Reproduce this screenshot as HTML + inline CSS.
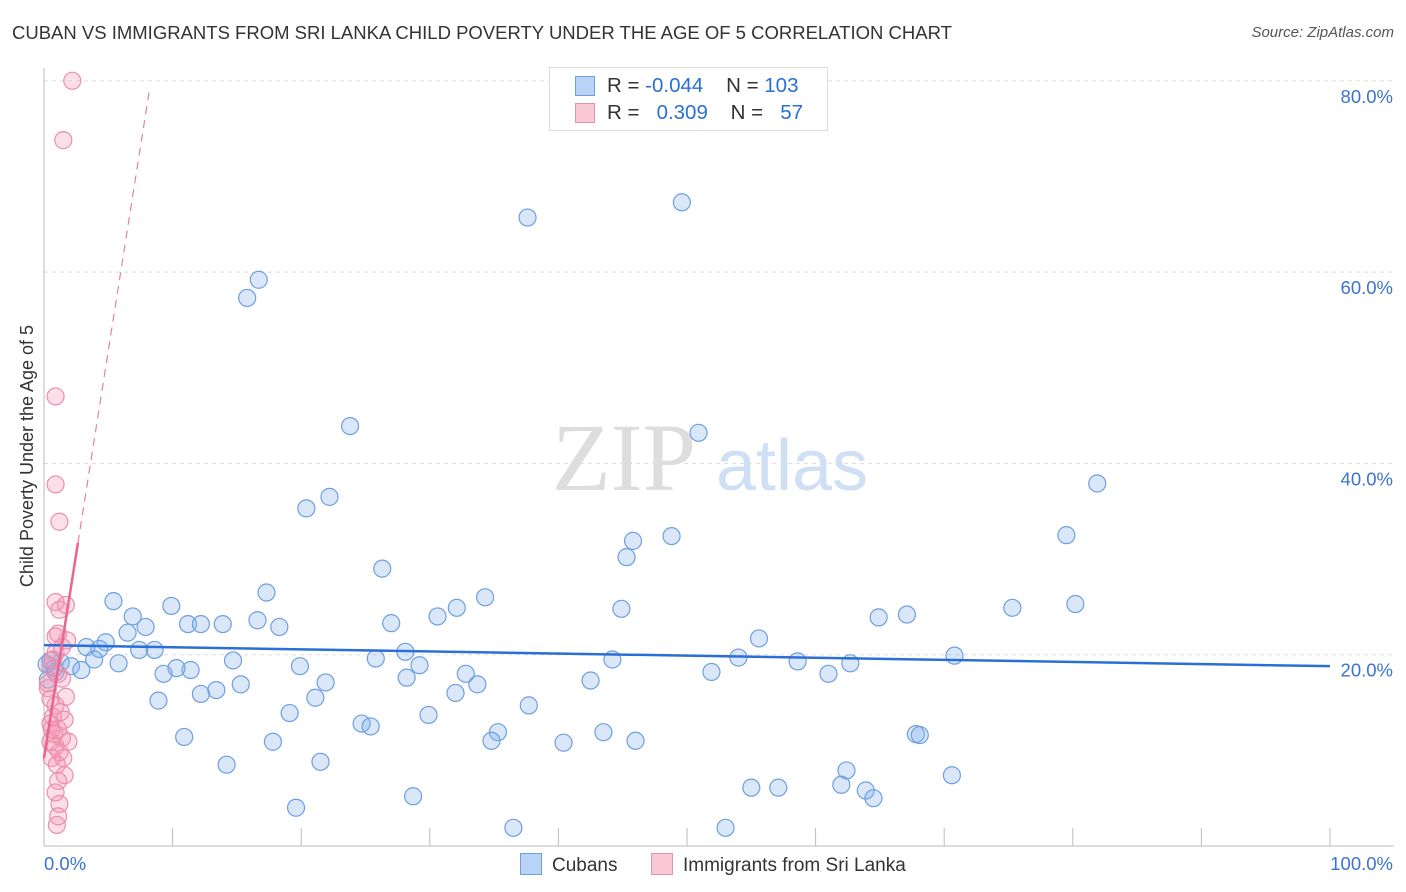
<!DOCTYPE html>
<html><head><meta charset="utf-8"><style>
body{margin:0;background:#fff;font-family:"Liberation Sans",sans-serif}
#wrap{position:relative;width:1406px;height:892px;overflow:hidden}
.t{position:absolute;white-space:nowrap}
</style></head><body>
<div id="wrap">
<div class="t" style="left:12px;top:22px;font-size:18.5px;color:#333">CUBAN VS IMMIGRANTS FROM SRI LANKA CHILD POVERTY UNDER THE AGE OF 5 CORRELATION CHART</div>
<div class="t" style="right:12px;top:24px;font-size:15px;color:#555;font-style:italic">Source: ZipAtlas.com</div>
<svg id="plot" width="1406" height="892" style="position:absolute;left:0;top:0"></svg>
</div>
<script>
const blueX=[37.6,49.6,16.7,15.8,23.8,50.9,81.9,22.2,20.4,79.5,48.8,45.8,45.3,26.3,17.3,34.3,5.4,32.1,44.9,9.9,80.2,75.3,67.1,64.9,6.9,30.6,27,16.6,11.2,12.2,13.9,18.3,7.9,6.5,55.6,4.8,3.3,4.3,8.6,7.4,28.1,54.0,70.8,14.7,25.8,3.9,44.2,58.6,62.7,5.8,1.3,0.2,2.1,2.9,19.9,10.3,29.2,11.4,9.3,32.8,51.9,61,28.2,33.7,42.5,21.9,15.3,13.4,12.2,32,21.1,8.9,37.7,19.1,29.9,24.7,25.4,43.5,35.3,67.8,68.1,10.9,46,17.8,34.8,40.4,21.5,14.2,62.4,70.6,55,57.1,62,63.9,64.5,28.7,19.6,36.5,53,0.9,0.5,0.3,0.8];
const blueY=[65.7,67.3,59.2,57.3,43.9,43.2,37.9,36.5,35.3,32.5,32.4,31.9,30.2,29,26.5,26,25.6,24.9,24.8,25.1,25.3,24.9,24.2,23.9,24,24,23.3,23.6,23.2,23.2,23.2,22.9,22.9,22.3,21.7,21.3,20.8,20.6,20.5,20.5,20.3,19.7,19.9,19.4,19.6,19.5,19.5,19.3,19.1,19.1,19.2,19,18.8,18.4,18.8,18.6,18.9,18.4,18,18,18.2,18,17.6,16.9,17.3,17.1,16.9,16.3,15.9,16,15.5,15.2,14.7,13.9,13.7,12.8,12.5,11.9,11.9,11.7,11.6,11.4,11,10.9,11,10.8,8.8,8.5,7.9,7.4,6.1,6.1,6.4,5.8,5,5.2,4,1.9,1.9,18.2,19.4,17.4,18.6];
const pinkX=[2.2,1.5,0.9,0.9,1.2,0.9,1.7,1.2,1.8,1.1,0.9,0.7,0.5,1.1,1.4,0.3,1.7,0.9,1.3,0.7,1.6,0.5,1.1,1.4,0.5,1.9,0.9,1.2,0.6,1.5,1,1.6,1.1,0.9,1.2,1.1,1,0.3,0.5,0.6,0.8,0.9,1.4];
const pinkY=[80,73.8,47,37.8,33.9,25.5,25.2,24.7,21.5,22.2,20.2,19.5,18.8,18,17.5,17,15.6,14.7,14,13.5,13.2,12.8,12.2,11.3,10.9,10.9,10.4,9.8,9.2,9.2,8.5,7.4,6.8,5.6,4.4,3.1,2.2,16.5,15.4,12.2,11.7,21.9,20.8];
const blueTrend=[21.0,18.8];          // y% at x=0 and x=100
const pinkTrend=[9.2,79.4,8.24,2.64]; // y% at x=0, y% at xEnd, xEnd, solid end
const yTicks=[20,40,60,80], yTickLabels=["20.0%","40.0%","60.0%","80.0%"];
const X=v=>44+v*12.86, Y=v=>846-v*9.565;
const svg=document.getElementById('plot'),NS="http://www.w3.org/2000/svg";
function mk(t,a,p){const e=document.createElementNS(NS,t);for(const k in a)e.setAttribute(k,a[k]);(p||svg).appendChild(e);return e;}
let w=mk('text',{x:552,y:490,'font-size':96,'font-family':'Liberation Serif,serif',fill:'#ddd'});w.textContent='ZIP';


let w2=mk('text',{x:716,y:490,'font-size':72,'font-family':'Liberation Sans,sans-serif',fill:'#cfe0f5'});w2.textContent='atlas';


yTicks.forEach((t,i)=>{
 const g=mk('line',{x1:44,x2:1394,y1:Y(t),y2:Y(t),stroke:'#ddd','stroke-dasharray':'4,4'});
 
 
 const l=mk('text',{x:1393,y:Y(t)+22,'text-anchor':'end','font-size':18.5,fill:'#3b73d0'});l.textContent=yTickLabels[i];
 
 
});
mk('line',{x1:44,x2:44,y1:68,y2:846,stroke:'#bbb'});
mk('line',{x1:44,x2:1394,y1:846,y2:846,stroke:'#bbb'});
for(let i=1;i<=10;i++){const tk=mk('line',{x1:X(i*10),x2:X(i*10),y1:828,y2:846,stroke:'#bbb'});
 
 }
let xl=mk('text',{x:44,y:870,'font-size':18.5,fill:'#3b73d0'});xl.textContent='0.0%';


let xr=mk('text',{x:1393,y:870,'text-anchor':'end','font-size':18.5,fill:'#3b73d0'});xr.textContent='100.0%';


let yt=mk('text',{x:0,y:0,'font-size':18,fill:'#333','text-anchor':'middle',transform:'translate(33,456) rotate(-90)'});yt.textContent='Child Poverty Under the Age of 5';


blueX.forEach((x,i)=>{const c=mk('circle',{cx:X(x),cy:Y(blueY[i]),r:8.5,fill:'rgba(130,175,235,0.3)',stroke:'#6e9fe0','stroke-width':1.2});
 
 });
pinkX.forEach((x,i)=>{const c=mk('circle',{cx:X(x),cy:Y(pinkY[i]),r:8.5,fill:'rgba(245,150,180,0.3)',stroke:'#eb8fac','stroke-width':1.2});
 
 });
let bt=mk('line',{x1:X(0),y1:Y(blueTrend[0]),x2:X(100),y2:Y(blueTrend[1]),stroke:'#2a6fd6','stroke-width':2.5});


const py=x=>pinkTrend[0]+(pinkTrend[1]-pinkTrend[0])*x/pinkTrend[2];
let pd=mk('line',{x1:X(pinkTrend[3]),y1:Y(py(pinkTrend[3])),x2:X(pinkTrend[2]),y2:Y(pinkTrend[1]),stroke:'#e8809f','stroke-width':1.2,'stroke-dasharray':'8,6'});


let ps=mk('line',{x1:X(0),y1:Y(pinkTrend[0]),x2:X(pinkTrend[3]),y2:Y(py(pinkTrend[3])),stroke:'#e8668f','stroke-width':2.5});


</script>
<div class="t" style="left:549px;top:67px;width:277px;height:62px;border:1px solid #ddd;background:#fff;font-size:20.5px;color:#333">
 <div style="position:absolute;left:25px;top:8px;width:18px;height:18px;background:#b8d3f5;border:1px solid #6e9fe0"></div>
 <div style="position:absolute;left:57px;top:6px">R = <span style="color:#2a6fd6">-0.044</span>&nbsp;&nbsp;&nbsp;&nbsp;N = <span style="color:#2a6fd6">103</span></div>
 <div style="position:absolute;left:25px;top:35px;width:18px;height:18px;background:#f8c8d6;border:1px solid #eb8fac"></div>
 <div style="position:absolute;left:57px;top:33px">R = &nbsp;&nbsp;<span style="color:#2a6fd6">0.309</span>&nbsp;&nbsp;&nbsp;&nbsp;N = &nbsp;&nbsp;<span style="color:#2a6fd6">57</span></div>
</div>
<div class="t" style="left:520px;top:853px;font-size:19px;color:#333"><span style="display:inline-block;width:20px;height:20px;background:#b8d3f5;border:1px solid #6e9fe0;vertical-align:-4px;margin-right:10px"></span>Cubans</div>
<div class="t" style="left:651px;top:853px;font-size:19px;color:#333"><span style="display:inline-block;width:20px;height:20px;background:#f8c8d6;border:1px solid #eb8fac;vertical-align:-4px;margin-right:10px"></span>Immigrants from Sri Lanka</div>
</body></html>
